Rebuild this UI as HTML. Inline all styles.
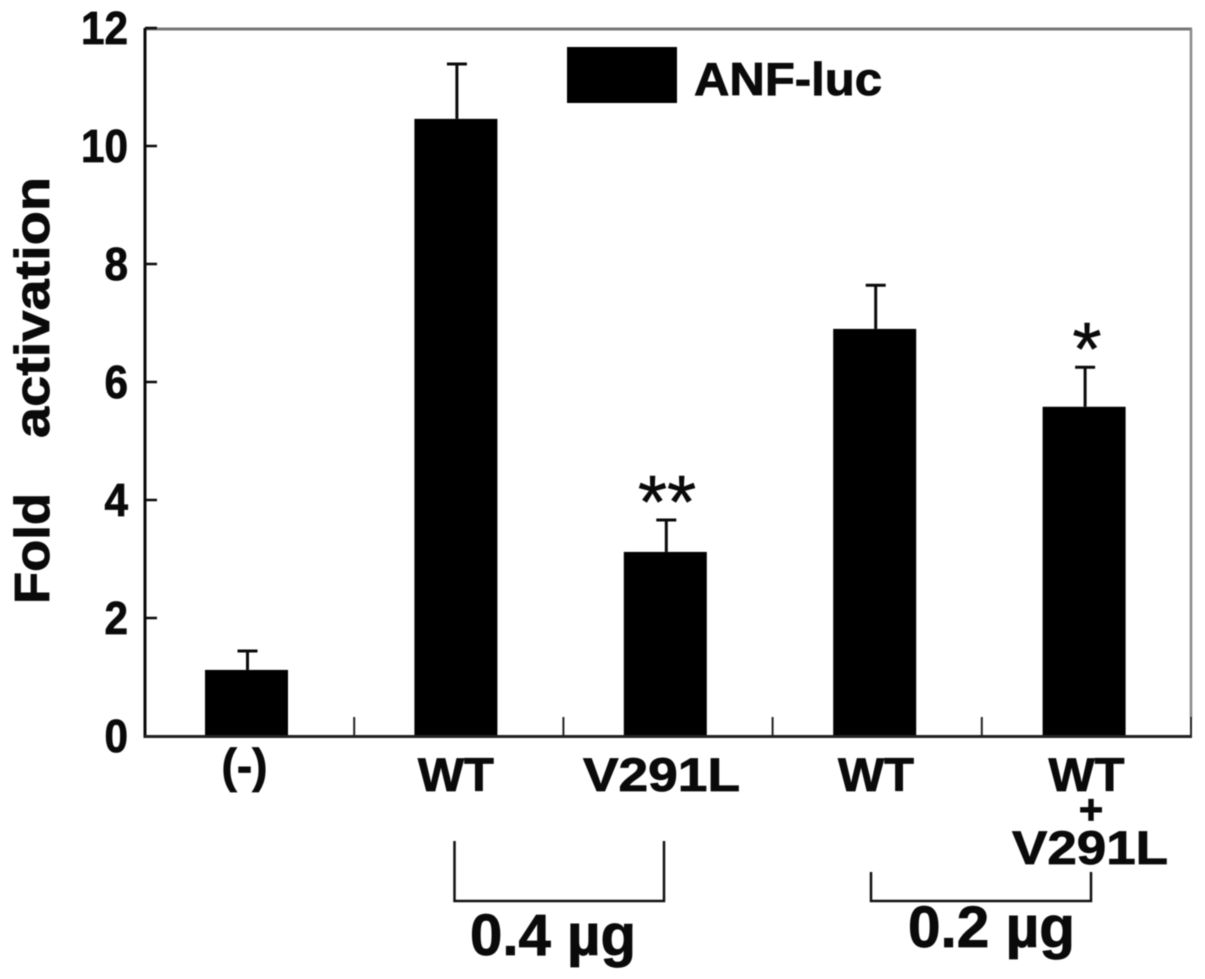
<!DOCTYPE html>
<html lang="en">
<head>
<meta charset="utf-8">
<title>Fold activation of ANF-luc</title>
<style>
html,body{margin:0;padding:0;background:#fff;width:1205px;height:979px;overflow:hidden}
svg{display:block;filter:blur(0.5px)}
text{font-family:"Liberation Sans",Arial,sans-serif;font-weight:700;fill:#0a0a0a;stroke:#0a0a0a;stroke-width:0.8px}
text.star{font-weight:400;stroke-width:0.5px}
</style>
</head>
<body>
<svg id="chart" xmlns="http://www.w3.org/2000/svg" width="1205" height="979" viewBox="0 0 1205 979">
  <rect x="0" y="0" width="1205" height="979" fill="#fff"/>
  <g id="marks"></g>
  <line x1="145" y1="29" x2="1192" y2="29" stroke="#777" stroke-width="3"/>
  <line x1="1191" y1="29" x2="1191" y2="718" stroke="#888" stroke-width="2.5"/>
  <line x1="145" y1="28" x2="145" y2="738" stroke="#0a0a0a" stroke-width="3"/>
  <line x1="144" y1="736.5" x2="1192" y2="736.5" stroke="#222" stroke-width="3"/>
  <g id="axes"></g>

  <text transform="translate(49,604) rotate(-90)" font-size="49" textLength="111" lengthAdjust="spacingAndGlyphs">Fold</text>
  <text transform="translate(49,438) rotate(-90)" font-size="49" textLength="261" lengthAdjust="spacingAndGlyphs">activation</text>

  <rect x="567" y="47" width="110" height="56" fill="#000"/>
  <text x="694" y="95" font-size="46" textLength="188" lengthAdjust="spacingAndGlyphs">ANF-luc</text>

  <text class="star" x="667" y="528" font-size="75" text-anchor="middle">**</text>
  <text class="star" x="1087" y="375" font-size="75" text-anchor="middle">*</text>

  <text x="1091" y="824" font-size="42" text-anchor="middle">+</text>
  <text x="1012" y="864" font-size="47" textLength="156" lengthAdjust="spacingAndGlyphs">V291L</text>

  <path d="M454.5 841V901H664V841" fill="none" stroke="#111" stroke-width="2.5"/>
  <path d="M871 872V901H1091V872" fill="none" stroke="#111" stroke-width="2.5"/>
  <text x="470" y="955" font-size="58" textLength="166" lengthAdjust="spacingAndGlyphs">0.4 µg</text>
  <text x="908" y="947" font-size="58" textLength="167" lengthAdjust="spacingAndGlyphs">0.2 µg</text>
</svg>
<script>
var categories = ['(-)', 'WT', 'V291L', 'WT', 'WT'];
var foldValues = [1.12, 10.46, 3.12, 6.9, 5.58];
var errorTops = [1.44, 11.39, 3.66, 7.64, 6.25];
var yTickValues = [0, 2, 4, 6, 8, 10, 12];

var NS = 'http://www.w3.org/2000/svg';
var marks = document.getElementById('marks');
var axes = document.getElementById('axes');

function yScale(v) {
  return 736 - v * 59;
}
function bandLeft(i) {
  return 145 + i * 209.2;
}
function barCenter(i) {
  return 246.5 + i * 209.4;
}
function make(tag, parent, attrs) {
  var el = document.createElementNS(NS, tag);
  for (var k in attrs) el.setAttribute(k, attrs[k]);
  parent.appendChild(el);
  return el;
}

foldValues.forEach(function (v, i) {
  var cx = barCenter(i);
  var errX = cx + 1;
  var top = yScale(v);
  var bar = make('rect', marks, {x: cx - 41.5, y: top, width: 83, height: 736 - top, fill: '#000'});
  
  
  var stem = make('line', marks, {x1: errX, x2: errX, y1: top, y2: yScale(errorTops[i]), stroke: '#0a0a0a', 'stroke-width': 3});
  
  
  var cap = make('line', marks, {x1: errX - 10, x2: errX + 10, y1: yScale(errorTops[i]), y2: yScale(errorTops[i]), stroke: '#0a0a0a', 'stroke-width': 3});
  
  
});

yTickValues.forEach(function (t) {
  var y = yScale(t);
  if (t > 0) {
    var tick = make('line', axes, {x1: 145, x2: 157, y1: y, y2: y, stroke: '#0a0a0a', 'stroke-width': 2.5});
    
    
  }
  var s = String(t);
  var label = make('text', axes, {x: 128 - s.length * 23.5, y: y + 16, 'font-size': 46, textLength: s.length * 23.5, lengthAdjust: 'spacingAndGlyphs'});
  
  
  label.textContent = s;
});

categories.forEach(function (c, i) {
  var tick = make('line', axes, {x1: bandLeft(i + 1), x2: bandLeft(i + 1), y1: 717, y2: 736, stroke: '#222', 'stroke-width': 2});
  
  
  var width = c === '(-)' ? 46 : (c === 'V291L' ? 157 : 76);
  var baseline = c === '(-)' ? 782 : 791;
  var offset = [-2, 0, -3.8, 1.3, 2.4][i];
  var label = make('text', axes, {x: barCenter(i) + offset - width / 2, y: baseline, 'font-size': 47, textLength: width, lengthAdjust: 'spacingAndGlyphs'});
  
  
  label.textContent = c;
});
</script>
</body>
</html>
